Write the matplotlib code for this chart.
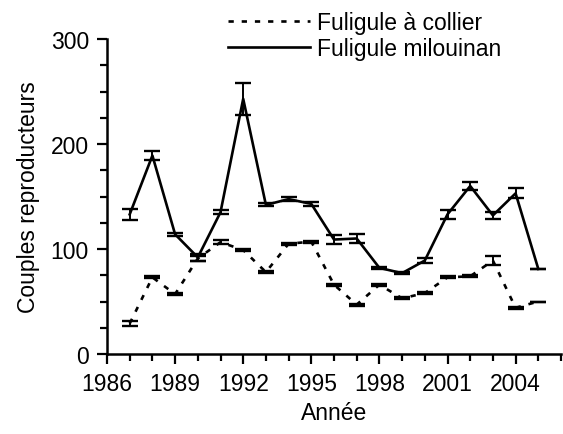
import matplotlib.pyplot as plt
from matplotlib.lines import Line2D
import numpy as np

plt.rcParams['font.family'] = ['Liberation Sans', 'DejaVu Sans']

# annees
annees = list(range(1987, 2006))

# fuligule a collier (pointilles)
collier = [29, 73, 57, 91, 106.5, 99, 78, 105, 107, 66, 47, 66, 53, 58, 73, 74, 89, 44, 50]
collier_err = [2, 1, 1, 2, 1.6, 0.8, 1, 1, 1, 1, 1, 1, 1, 1, 1, 1, 4.3, 1, 0]

# fuligule milouinan (trait plein)
milouinan = [133, 189, 114, 92, 135, 243, 142, 147.5, 143, 109, 110, 82, 77, 89, 133, 160, 132, 153, 81]
milouinan_err = [5.5, 4.5, 1.5, 3.5, 2, 15, 1.5, 2.2, 2, 4, 4.3, 1, 1, 2.2, 4, 3.5, 3.2, 4.7, 0]

pointille = (0, (2, 3))

fig = plt.figure(figsize=(5.63, 4.35), dpi=100)
ax = fig.add_axes([107 / 563, 1 - 355 / 435, 454 / 563, 315 / 435])

ax.errorbar(annees, collier, yerr=collier_err, color='black', linestyle=pointille,
            linewidth=1.9, capsize=5.5, capthick=1.7, elinewidth=1.4)
ax.errorbar(annees, milouinan, yerr=milouinan_err, color='black', linestyle='-',
            linewidth=1.9, capsize=5.5, capthick=1.7, elinewidth=1.4)

ax.set_xlim(1986, 2006)
ax.set_ylim(0, 300)
ax.set_xticks(range(1986, 2005, 3))
ax.set_xticks(range(1986, 2007), minor=True)
ax.set_yticks([0, 100, 200, 300])
ax.set_yticks(np.arange(0, 301, 25), minor=True)

for s in ['top', 'right']:
    ax.spines[s].set_visible(False)
for s in ['left', 'bottom']:
    ax.spines[s].set_linewidth(1.8)

ax.tick_params(axis='both', which='major', direction='out', length=7, width=1.6,
               labelsize=16.5, pad=6)
ax.tick_params(axis='both', which='minor', direction='out', length=5, width=1.6)

ax.set_xlabel('Année', fontsize=16.5, labelpad=4)
ax.set_ylabel('Couples reproducteurs', fontsize=16.5, labelpad=8)

poignees = [Line2D([], [], color='black', linestyle=pointille, linewidth=1.9),
            Line2D([], [], color='black', linestyle='-', linewidth=1.9)]
fig.legend(poignees, ['Fuligule à collier', 'Fuligule milouinan'],
           loc='upper left', bbox_to_anchor=(222 / 563, 1 - 6 / 435), frameon=False,
           fontsize=16.5, handlelength=3.6, handletextpad=0.3, labelspacing=0.15,
           borderpad=0.05, borderaxespad=0.2)

fig.savefig('out.png', dpi=100)
